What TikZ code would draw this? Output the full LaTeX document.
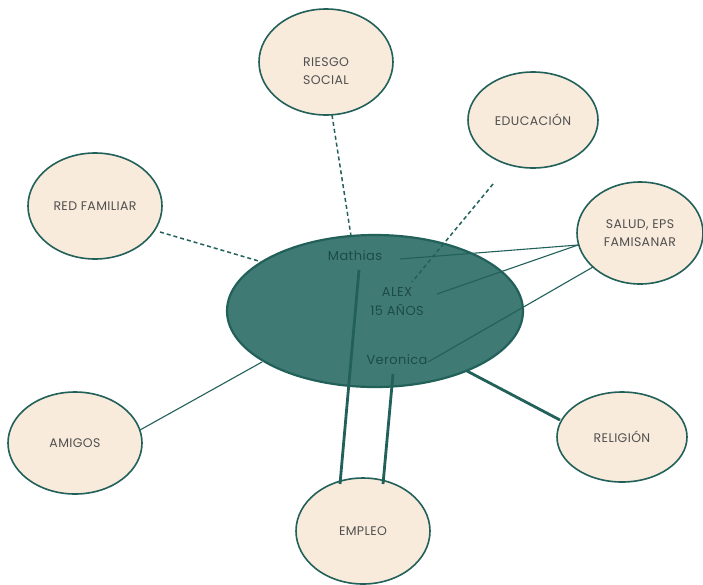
\documentclass[tikz,border=0pt]{standalone}
\usepackage{fontspec}
\setmainfont{Poppins}[LetterSpace=3]
\usetikzlibrary{shapes.geometric}
\definecolor{tealfill}{HTML}{3F7B74}
\definecolor{tealdark}{HTML}{22605A}
\definecolor{beige}{HTML}{F8EBDB}
\definecolor{txtgray}{HTML}{505050}
\definecolor{txtteal}{HTML}{1D4B47}
\tikzset{
  outer/.style={ellipse, draw=tealdark, fill=beige, line width=1.6pt, inner sep=0pt,
    text=txtgray, font=\fontsize{12.5}{18}\selectfont, align=center},
  inner/.style={text=txtteal, font=\fontsize{13}{19}\selectfont, inner sep=0pt, align=center},
  thin/.style={draw=tealdark, line width=1.1pt},
  thick/.style={draw=tealdark, line width=2.8pt},
  dashline/.style={draw=tealdark, line width=1.5pt, dash pattern=on 4pt off 3pt},
}
\begin{document}
\begin{tikzpicture}[x=1pt,y=-1pt]
\useasboundingbox (0,0) rectangle (703,584);
\fill[white] (0,0) rectangle (703,584);
% central
\node[ellipse, draw=tealdark, fill=tealfill, line width=2.2pt, minimum width=296pt, minimum height=152pt, inner sep=0pt] (alexbg) at (375,311) {};
% outer circles
\node[outer, minimum width=134pt, minimum height=106pt] (riesgo) at (326,62) {};
\node[text=txtgray, font=\fontsize{12.5}{18}\selectfont, align=center] (riesgotxt) at (326,71) {RIESGO\\SOCIAL};
\node[outer, minimum width=130pt, minimum height=96pt] (educ) at (533,120) {EDUCACIÓN};
\node[outer, minimum width=126pt, minimum height=102pt] (salud) at (640,233) {SALUD, EPS\\FAMISANAR};
\node[outer, minimum width=134pt, minimum height=106pt] (red) at (95,206) {RED FAMILIAR};
\node[outer, minimum width=134pt, minimum height=102pt] (amigos) at (75,443) {AMIGOS};
\node[outer, minimum width=130pt, minimum height=90pt] (relig) at (622,437) {RELIGIÓN};
\node[outer, minimum width=134pt, minimum height=106pt] (empleo) at (363,531) {EMPLEO};
% inner texts
\node[inner] (mathias) at (355,256) {Mathias};
\node[inner] (alex) at (397,302) {ALEX\\15 AÑOS};
\node[inner] (veronica) at (397,360) {Veronica};
% coordinates
\coordinate (rsA) at (332,115);
\coordinate (rsB) at (351,236);
\coordinate (edA) at (493,184);
\coordinate (edB) at (412,282);
\coordinate (rfA) at (160,232);
\coordinate (rfB) at (262,262);
\coordinate (amA) at (140,430);
\coordinate (amB) at (262,362);
\coordinate (saA) at (578,245);
\coordinate (saB) at (593,267);
\coordinate (maR) at (400,259);
\coordinate (alR) at (437,294);
\coordinate (veR) at (428,362);
\coordinate (reA) at (467,371);
\coordinate (reB) at (560,420);
\coordinate (emA) at (359,270);
\coordinate (emB) at (340,484);
\coordinate (emC) at (393,374);
\coordinate (emD) at (383,484);
% connectors
\draw[dashline] (rsA) -- (rsB);
\draw[dashline] (edA) -- (edB);
\draw[dashline] (rfA) -- (rfB);
\draw[thin] (amA) -- (amB);
\draw[thin] (saA) -- (maR);
\draw[thin] (saA) -- (alR);
\draw[thin] (saB) -- (veR);
\draw[thick] (reA) -- (reB);
\draw[thick] (emA) -- (emB);
\draw[thick] (emC) -- (emD);
\end{tikzpicture}
\end{document}
